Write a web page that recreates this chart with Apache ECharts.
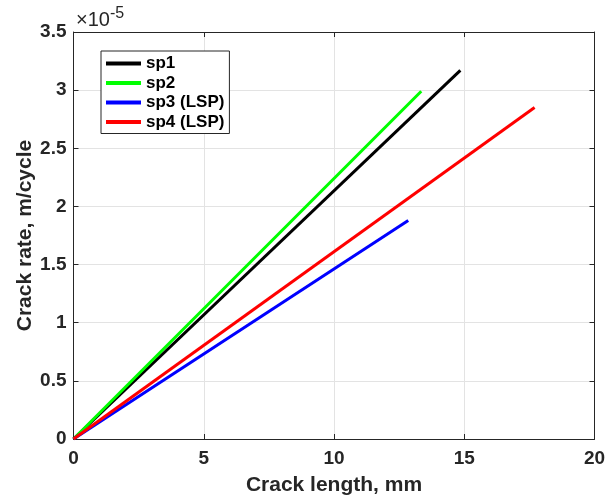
<!DOCTYPE html>
<html>
<head>
<meta charset="utf-8">
<script src="https://cdn.jsdelivr.net/npm/echarts@6/dist/echarts.min.js"></script>
<style>
html,body{margin:0;padding:0;background:#fff;}
#chart{width:613px;height:498px;}
</style>
</head>
<body>
<div id="chart"></div>
<script>
// Data (crack rate in units of 1e-5 m/cycle)
const seriesNames = ['sp1', 'sp2', 'sp3 (LSP)', 'sp4 (LSP)'];
const sp1X = [0, 14.85];
const sp1Y = [0, 3.17];
const sp2X = [0, 13.35];
const sp2Y = [0, 2.99];
const sp3X = [0, 12.85];
const sp3Y = [0, 1.88];
const sp4X = [0, 17.7];
const sp4Y = [0, 2.85];
const xTicks = [0, 5, 10, 15, 20];
const yTicks = [0, 0.5, 1, 1.5, 2, 2.5, 3, 3.5];
const colors = ['#000000', '#00ff00', '#0000ff', '#ff0000'];

const xs = [sp1X, sp2X, sp3X, sp4X];
const ys = [sp1Y, sp2Y, sp3Y, sp4Y];

const FONT = '"Liberation Sans", Arial, sans-serif';
const AX = '#262626';

function pairs(x, y) { return x.map((v, i) => [v, y[i]]); }

const chart = echarts.init(document.getElementById('chart'), null, {renderer: 'canvas'});

const baseX = {
  type: 'value', min: xTicks[0], max: xTicks[xTicks.length - 1], interval: 5,
  axisLine: {show: true, onZero: false, lineStyle: {color: AX, width: 1}},
  axisTick: {show: true, inside: true, length: 5, lineStyle: {color: AX}},
};
const baseY = {
  type: 'value', min: yTicks[0], max: yTicks[yTicks.length - 1], interval: 0.5,
  axisLine: {show: true, onZero: false, lineStyle: {color: AX, width: 1}},
  axisTick: {show: true, inside: true, length: 5, lineStyle: {color: AX}},
};

chart.setOption({
  animation: false,
  backgroundColor: '#ffffff',
  grid: {left: 73.5, top: 32, right: 18.5, bottom: 59, containLabel: false, outerBoundsMode: 'none'},
  xAxis: [
    Object.assign({}, baseX, {
      position: 'bottom',
      name: 'Crack length, mm', nameLocation: 'middle', nameGap: 36, nameMoveOverlap: false,
      nameTextStyle: {fontFamily: FONT, fontWeight: 'bold', fontSize: 21, color: AX},
      axisLabel: {fontFamily: FONT, fontWeight: 'bold', fontSize: 19, color: AX, margin: 10},
      splitLine: {show: true, lineStyle: {color: '#e3e3e3', width: 1}}
    }),
    Object.assign({}, baseX, {
      position: 'top', axisLabel: {show: false}, splitLine: {show: false}
    })
  ],
  yAxis: [
    Object.assign({}, baseY, {
      position: 'left',
      name: 'Crack rate, m/cycle', nameLocation: 'middle', nameGap: 38, nameMoveOverlap: false,
      nameTextStyle: {fontFamily: FONT, fontWeight: 'bold', fontSize: 21, color: AX},
      axisLabel: {fontFamily: FONT, fontWeight: 'bold', fontSize: 19, color: AX, margin: 7},
      splitLine: {show: true, lineStyle: {color: '#e3e3e3', width: 1}}
    }),
    Object.assign({}, baseY, {
      position: 'right', axisLabel: {show: false}, splitLine: {show: false}
    })
  ],
  legend: {
    show: true,
    orient: 'vertical',
    left: 101, top: 51,
    backgroundColor: '#ffffff',
    borderColor: AX, borderWidth: 1,
    padding: [4, 5, 3, 5],
    itemGap: 2.5,
    itemWidth: 35, itemHeight: 4,
    icon: 'rect',
    textStyle: {fontFamily: FONT, fontWeight: 'bold', fontSize: 17, color: '#000', lineHeight: 17},
    data: seriesNames
  },
  graphic: [{
    type: 'text', left: 76, top: 6,
    style: {
      rich: {
        a: {fontFamily: FONT, fontSize: 20, fill: AX, verticalAlign: 'bottom', lineHeight: 24},
        b: {fontFamily: FONT, fontSize: 16, fill: AX, verticalAlign: 'top', lineHeight: 16}
      },
      text: '{a|\u00d710}{b|-5}'
    }
  }],
  series: seriesNames.map((n, i) => ({
    name: n, type: 'line',
    xAxisIndex: 0, yAxisIndex: 0,
    data: pairs(xs[i], ys[i]),
    showSymbol: false, symbol: 'none',
    color: colors[i],
    lineStyle: {color: colors[i], width: 3}
  }))
});
</script>
</body>
</html>
